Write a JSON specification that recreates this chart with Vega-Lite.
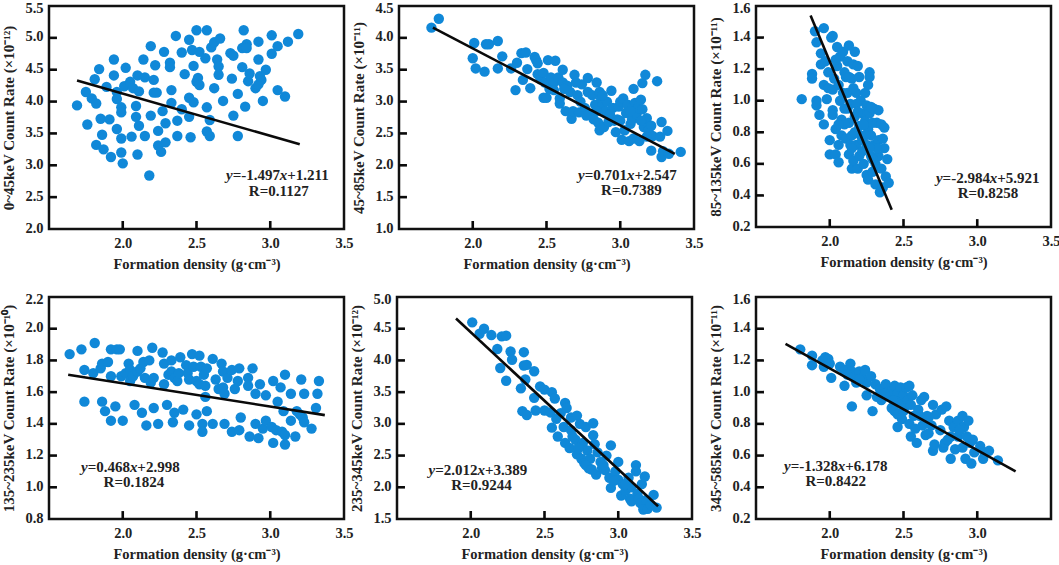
{"$schema":"https://vega.github.io/schema/vega-lite/v6.json","padding":{"left":0,"top":-2,"right":0,"bottom":0},"background":"white",
"config":{"view":{"stroke":"#111","strokeWidth":2.5},"axis":{"grid":false,"domain":false,"ticks":false,"labelFont":"Liberation Serif","labelFontWeight":"bold","labelFontSize":14.5,"labelColor":"#222","titleFont":"Liberation Serif","titleFontWeight":"bold","titleColor":"#222","format":".1f","labelOverlap":false,"labelFlush":false},"axisX":{"labelPadding":7,"titlePadding":8,"titleFontSize":14.5},"axisY":{"labelPadding":6,"titlePadding":8,"titleFontSize":15,"labelOffset":{"expr":"datum.index==1?2:-1"}},"text":{"font":"Liberation Serif","fontSize":15,"fontWeight":"bold","align":"left","baseline":"middle","color":"#222"},"circle":{"size":108,"opacity":1,"color":"#1088d8"},"line":{"color":"#0a0a0a","strokeWidth":2.6}},
"datasets":{
"t1":[{"g":1,"x":2,"y":2},{"g":1,"x":2,"y":2.126},{"g":2,"x":2.5,"y":2},{"g":2,"x":2.5,"y":2.126},{"g":3,"x":3,"y":2},{"g":3,"x":3,"y":2.126},{"g":4,"x":1.5,"y":2.5},{"g":4,"x":1.554,"y":2.5},{"g":5,"x":1.5,"y":3},{"g":5,"x":1.554,"y":3},{"g":6,"x":1.5,"y":3.5},{"g":6,"x":1.554,"y":3.5},{"g":7,"x":1.5,"y":4},{"g":7,"x":1.554,"y":4},{"g":8,"x":1.5,"y":4.5},{"g":8,"x":1.554,"y":4.5},{"g":9,"x":1.5,"y":5},{"g":9,"x":1.554,"y":5}],
"t2":[{"g":1,"x":2,"y":1},{"g":1,"x":2,"y":1.126},{"g":2,"x":2.5,"y":1},{"g":2,"x":2.5,"y":1.126},{"g":3,"x":3,"y":1},{"g":3,"x":3,"y":1.126},{"g":4,"x":1.5,"y":1.5},{"g":4,"x":1.554,"y":1.5},{"g":5,"x":1.5,"y":2},{"g":5,"x":1.554,"y":2},{"g":6,"x":1.5,"y":2.5},{"g":6,"x":1.554,"y":2.5},{"g":7,"x":1.5,"y":3},{"g":7,"x":1.554,"y":3},{"g":8,"x":1.5,"y":3.5},{"g":8,"x":1.554,"y":3.5},{"g":9,"x":1.5,"y":4},{"g":9,"x":1.554,"y":4}],
"t3":[{"g":1,"x":2,"y":0.2},{"g":1,"x":2,"y":0.25},{"g":2,"x":2.5,"y":0.2},{"g":2,"x":2.5,"y":0.25},{"g":3,"x":3,"y":0.2},{"g":3,"x":3,"y":0.25},{"g":4,"x":1.5,"y":0.4},{"g":4,"x":1.554,"y":0.4},{"g":5,"x":1.5,"y":0.6},{"g":5,"x":1.554,"y":0.6},{"g":6,"x":1.5,"y":0.8},{"g":6,"x":1.554,"y":0.8},{"g":7,"x":1.5,"y":1},{"g":7,"x":1.554,"y":1},{"g":8,"x":1.5,"y":1.2},{"g":8,"x":1.554,"y":1.2},{"g":9,"x":1.5,"y":1.4},{"g":9,"x":1.554,"y":1.4}],
"t4":[{"g":1,"x":2,"y":0.8},{"g":1,"x":2,"y":0.85},{"g":2,"x":2.5,"y":0.8},{"g":2,"x":2.5,"y":0.85},{"g":3,"x":3,"y":0.8},{"g":3,"x":3,"y":0.85},{"g":4,"x":1.5,"y":1},{"g":4,"x":1.554,"y":1},{"g":5,"x":1.5,"y":1.2},{"g":5,"x":1.554,"y":1.2},{"g":6,"x":1.5,"y":1.4},{"g":6,"x":1.554,"y":1.4},{"g":7,"x":1.5,"y":1.6},{"g":7,"x":1.554,"y":1.6},{"g":8,"x":1.5,"y":1.8},{"g":8,"x":1.554,"y":1.8},{"g":9,"x":1.5,"y":2},{"g":9,"x":1.554,"y":2}],
"t5":[{"g":1,"x":2,"y":1.5},{"g":1,"x":2,"y":1.626},{"g":2,"x":2.5,"y":1.5},{"g":2,"x":2.5,"y":1.626},{"g":3,"x":3,"y":1.5},{"g":3,"x":3,"y":1.626},{"g":4,"x":1.5,"y":2},{"g":4,"x":1.554,"y":2},{"g":5,"x":1.5,"y":2.5},{"g":5,"x":1.554,"y":2.5},{"g":6,"x":1.5,"y":3},{"g":6,"x":1.554,"y":3},{"g":7,"x":1.5,"y":3.5},{"g":7,"x":1.554,"y":3.5},{"g":8,"x":1.5,"y":4},{"g":8,"x":1.554,"y":4},{"g":9,"x":1.5,"y":4.5},{"g":9,"x":1.554,"y":4.5}],
"t6":[{"g":1,"x":2,"y":0.2},{"g":1,"x":2,"y":0.25},{"g":2,"x":2.5,"y":0.2},{"g":2,"x":2.5,"y":0.25},{"g":3,"x":3,"y":0.2},{"g":3,"x":3,"y":0.25},{"g":4,"x":1.5,"y":0.4},{"g":4,"x":1.554,"y":0.4},{"g":5,"x":1.5,"y":0.6},{"g":5,"x":1.554,"y":0.6},{"g":6,"x":1.5,"y":0.8},{"g":6,"x":1.554,"y":0.8},{"g":7,"x":1.5,"y":1},{"g":7,"x":1.554,"y":1},{"g":8,"x":1.5,"y":1.2},{"g":8,"x":1.554,"y":1.2},{"g":9,"x":1.5,"y":1.4},{"g":9,"x":1.554,"y":1.4}],
"d1":[{"x":1.69,"y":3.94},{"x":1.76,"y":3.64},{"x":1.75,"y":4.15},{"x":1.79,"y":4.05},{"x":1.82,"y":3.97},{"x":1.81,"y":4.35},{"x":1.84,"y":4.51},{"x":1.85,"y":3.73},{"x":1.86,"y":3.48},{"x":1.82,"y":3.32},{"x":1.87,"y":3.25},{"x":1.89,"y":4.23},{"x":1.91,"y":3.72},{"x":1.92,"y":3.13},{"x":1.94,"y":4.66},{"x":1.94,"y":4.41},{"x":1.96,"y":4.15},{"x":1.96,"y":4.04},{"x":1.96,"y":3.57},{"x":1.99,"y":3.91},{"x":1.99,"y":3.83},{"x":1.99,"y":3.42},{"x":1.99,"y":3.2},{"x":2.0,"y":3.03},{"x":2.01,"y":4.24},{"x":2.02,"y":4.53},{"x":2.05,"y":4.31},{"x":2.07,"y":4.21},{"x":2.1,"y":4.41},{"x":2.09,"y":3.93},{"x":2.09,"y":3.76},{"x":2.06,"y":3.45},{"x":2.11,"y":3.62},{"x":2.1,"y":3.17},{"x":2.11,"y":4.16},{"x":2.14,"y":4.66},{"x":2.15,"y":4.38},{"x":2.15,"y":3.46},{"x":2.19,"y":4.87},{"x":2.19,"y":3.78},{"x":2.18,"y":2.84},{"x":2.21,"y":4.34},{"x":2.21,"y":4.14},{"x":2.23,"y":4.14},{"x":2.22,"y":4.57},{"x":2.24,"y":3.54},{"x":2.24,"y":3.31},{"x":2.27,"y":3.85},{"x":2.26,"y":3.21},{"x":2.28,"y":4.78},{"x":2.29,"y":3.66},{"x":2.29,"y":3.36},{"x":2.32,"y":4.61},{"x":2.32,"y":4.54},{"x":2.33,"y":4.18},{"x":2.33,"y":3.98},{"x":2.36,"y":5.03},{"x":2.37,"y":3.7},{"x":2.37,"y":3.46},{"x":2.4,"y":4.77},{"x":2.4,"y":3.88},{"x":2.42,"y":4.43},{"x":2.45,"y":4.97},{"x":2.45,"y":4.06},{"x":2.45,"y":3.76},{"x":2.46,"y":3.44},{"x":2.47,"y":4.81},{"x":2.48,"y":4.56},{"x":2.48,"y":3.99},{"x":2.5,"y":5.12},{"x":2.5,"y":4.31},{"x":2.51,"y":4.37},{"x":2.52,"y":4.78},{"x":2.52,"y":4.26},{"x":2.56,"y":4.68},{"x":2.57,"y":5.12},{"x":2.57,"y":3.91},{"x":2.57,"y":3.53},{"x":2.59,"y":3.46},{"x":2.59,"y":3.71},{"x":2.6,"y":4.85},{"x":2.62,"y":4.93},{"x":2.62,"y":4.21},{"x":2.64,"y":4.66},{"x":2.65,"y":4.55},{"x":2.65,"y":4.42},{"x":2.66,"y":4.99},{"x":2.68,"y":4.01},{"x":2.73,"y":4.76},{"x":2.75,"y":4.72},{"x":2.74,"y":4.36},{"x":2.75,"y":3.78},{"x":2.78,"y":3.46},{"x":2.78,"y":4.12},{"x":2.81,"y":4.54},{"x":2.82,"y":5.12},{"x":2.81,"y":4.84},{"x":2.84,"y":4.9},{"x":2.84,"y":4.84},{"x":2.83,"y":3.92},{"x":2.85,"y":4.32},{"x":2.86,"y":4.44},{"x":2.9,"y":4.21},{"x":2.92,"y":4.94},{"x":2.92,"y":4.66},{"x":2.92,"y":4.27},{"x":2.94,"y":4.34},{"x":2.93,"y":4.4},{"x":2.97,"y":4.5},{"x":2.95,"y":4.01},{"x":3.01,"y":5.04},{"x":3.01,"y":4.75},{"x":3.05,"y":4.87},{"x":3.05,"y":4.18},{"x":3.12,"y":4.94},{"x":3.1,"y":4.08},{"x":3.19,"y":5.06}],
"d2":[{"x":1.72,"y":4.16},{"x":1.77,"y":4.3},{"x":2.01,"y":3.92},{"x":2.0,"y":3.68},{"x":2.02,"y":3.52},{"x":2.08,"y":3.47},{"x":2.09,"y":3.9},{"x":2.11,"y":3.9},{"x":2.17,"y":3.95},{"x":2.17,"y":3.52},{"x":2.2,"y":3.71},{"x":2.26,"y":3.52},{"x":2.29,"y":3.18},{"x":2.3,"y":3.61},{"x":2.33,"y":3.76},{"x":2.34,"y":3.34},{"x":2.36,"y":3.77},{"x":2.37,"y":3.51},{"x":2.39,"y":3.21},{"x":2.42,"y":3.7},{"x":2.43,"y":3.65},{"x":2.44,"y":3.6},{"x":2.44,"y":3.43},{"x":2.46,"y":3.35},{"x":2.48,"y":3.45},{"x":2.49,"y":3.3},{"x":2.48,"y":3.06},{"x":2.5,"y":3.06},{"x":2.51,"y":3.65},{"x":2.52,"y":3.2},{"x":2.53,"y":3.38},{"x":2.55,"y":3.3},{"x":2.56,"y":3.64},{"x":2.58,"y":3.38},{"x":2.59,"y":3.05},{"x":2.59,"y":2.97},{"x":2.61,"y":3.5},{"x":2.61,"y":3.3},{"x":2.63,"y":2.85},{"x":2.64,"y":3.25},{"x":2.66,"y":3.15},{"x":2.67,"y":2.73},{"x":2.68,"y":2.85},{"x":2.69,"y":3.42},{"x":2.7,"y":3.3},{"x":2.71,"y":3.1},{"x":2.72,"y":2.83},{"x":2.74,"y":3.27},{"x":2.76,"y":2.9},{"x":2.78,"y":3.37},{"x":2.78,"y":3.15},{"x":2.79,"y":2.8},{"x":2.81,"y":3.1},{"x":2.82,"y":2.72},{"x":2.83,"y":2.95},{"x":2.84,"y":3.3},{"x":2.85,"y":2.67},{"x":2.86,"y":2.55},{"x":2.86,"y":3.15},{"x":2.87,"y":3.05},{"x":2.88,"y":2.95},{"x":2.89,"y":2.6},{"x":2.9,"y":2.85},{"x":2.91,"y":3.0},{"x":2.92,"y":2.68},{"x":2.94,"y":3.17},{"x":2.95,"y":2.9},{"x":2.96,"y":2.7},{"x":2.97,"y":2.52},{"x":2.98,"y":2.72},{"x":2.99,"y":2.92},{"x":3.0,"y":3.0},{"x":3.01,"y":2.4},{"x":3.02,"y":3.05},{"x":3.03,"y":2.55},{"x":3.04,"y":2.82},{"x":3.05,"y":2.95},{"x":3.06,"y":2.38},{"x":3.07,"y":2.65},{"x":3.08,"y":2.72},{"x":3.09,"y":2.42},{"x":3.09,"y":3.2},{"x":3.1,"y":2.98},{"x":3.11,"y":2.8},{"x":3.12,"y":2.9},{"x":3.13,"y":2.38},{"x":3.14,"y":3.03},{"x":3.15,"y":2.88},{"x":3.15,"y":3.29},{"x":3.16,"y":2.6},{"x":3.17,"y":3.42},{"x":3.18,"y":2.74},{"x":3.19,"y":2.55},{"x":3.21,"y":2.62},{"x":3.21,"y":2.23},{"x":3.22,"y":2.46},{"x":3.25,"y":3.32},{"x":3.27,"y":2.45},{"x":3.28,"y":2.68},{"x":3.28,"y":2.13},{"x":3.29,"y":2.22},{"x":3.32,"y":2.54},{"x":3.33,"y":2.18},{"x":3.41,"y":2.21},{"x":2.55,"y":3.18},{"x":2.62,"y":3.2},{"x":2.73,"y":3.0},{"x":2.77,"y":2.78},{"x":2.84,"y":2.85},{"x":2.88,"y":3.1},{"x":2.93,"y":2.8},{"x":3.0,"y":2.7},{"x":3.07,"y":2.85},{"x":3.14,"y":2.7},{"x":3.18,"y":2.45}],
"d3":[{"x":1.81,"y":1.01},{"x":1.88,"y":1.17},{"x":1.88,"y":1.14},{"x":1.9,"y":1.44},{"x":1.91,"y":1.37},{"x":1.91,"y":1.0},{"x":1.91,"y":0.97},{"x":1.93,"y":0.91},{"x":1.94,"y":1.3},{"x":1.94,"y":1.23},{"x":1.96,"y":1.46},{"x":1.96,"y":0.85},{"x":1.96,"y":1.1},{"x":1.97,"y":1.25},{"x":1.98,"y":1.01},{"x":1.99,"y":1.08},{"x":1.99,"y":1.18},{"x":2.0,"y":0.75},{"x":2.0,"y":0.66},{"x":2.01,"y":1.4},{"x":2.02,"y":1.41},{"x":2.02,"y":1.07},{"x":2.02,"y":0.94},{"x":2.02,"y":0.91},{"x":2.03,"y":1.14},{"x":2.04,"y":0.82},{"x":2.04,"y":0.66},{"x":2.05,"y":1.34},{"x":2.05,"y":1.22},{"x":2.06,"y":0.72},{"x":2.06,"y":0.61},{"x":2.07,"y":1.28},{"x":2.07,"y":1.0},{"x":2.08,"y":0.88},{"x":2.08,"y":0.78},{"x":2.09,"y":1.31},{"x":2.1,"y":0.95},{"x":2.1,"y":1.18},{"x":2.11,"y":0.76},{"x":2.12,"y":1.25},{"x":2.12,"y":1.05},{"x":2.13,"y":0.86},{"x":2.13,"y":0.66},{"x":2.13,"y":1.35},{"x":2.14,"y":0.98},{"x":2.15,"y":1.14},{"x":2.15,"y":0.78},{"x":2.15,"y":0.57},{"x":2.16,"y":1.23},{"x":2.16,"y":0.62},{"x":2.17,"y":1.31},{"x":2.17,"y":0.9},{"x":2.18,"y":1.05},{"x":2.18,"y":0.72},{"x":2.19,"y":1.22},{"x":2.19,"y":0.57},{"x":2.2,"y":1.15},{"x":2.2,"y":0.84},{"x":2.2,"y":0.65},{"x":2.21,"y":1.0},{"x":2.22,"y":0.92},{"x":2.22,"y":0.75},{"x":2.23,"y":0.6},{"x":2.24,"y":1.05},{"x":2.24,"y":0.87},{"x":2.25,"y":0.97},{"x":2.25,"y":0.72},{"x":2.25,"y":0.53},{"x":2.26,"y":1.1},{"x":2.26,"y":0.82},{"x":2.26,"y":0.5},{"x":2.27,"y":1.18},{"x":2.27,"y":1.15},{"x":2.27,"y":0.92},{"x":2.28,"y":0.65},{"x":2.28,"y":0.78},{"x":2.29,"y":0.86},{"x":2.29,"y":0.55},{"x":2.3,"y":0.95},{"x":2.3,"y":0.72},{"x":2.31,"y":0.6},{"x":2.31,"y":0.47},{"x":2.32,"y":0.86},{"x":2.33,"y":0.94},{"x":2.33,"y":0.75},{"x":2.33,"y":0.65},{"x":2.34,"y":0.42},{"x":2.35,"y":0.85},{"x":2.35,"y":0.57},{"x":2.36,"y":0.76},{"x":2.36,"y":0.45},{"x":2.37,"y":0.83},{"x":2.37,"y":0.7},{"x":2.38,"y":0.52},{"x":2.39,"y":0.63},{"x":2.4,"y":0.48},{"x":2.1,"y":0.85},{"x":2.14,"y":0.72},{"x":2.18,"y":0.98},{"x":2.21,"y":0.78},{"x":2.22,"y":0.68},{"x":2.24,"y":0.78},{"x":2.28,"y":0.96},{"x":2.32,"y":0.7},{"x":2.06,"y":1.1},{"x":2.11,"y":1.15},{"x":2.16,"y":1.08},{"x":2.09,"y":1.05},{"x":2.17,"y":0.8},{"x":2.12,"y":0.95},{"x":2.27,"y":0.7},{"x":2.19,"y":0.93},{"x":2.06,"y":0.85},{"x":2.13,"y":1.15},{"x":2.04,"y":1.26},{"x":2.23,"y":0.85},{"x":2.29,"y":0.63},{"x":2.15,"y":0.7}],
"d4":[{"x":1.64,"y":1.84},{"x":1.72,"y":1.87},{"x":1.74,"y":1.74},{"x":1.74,"y":1.54},{"x":1.81,"y":1.91},{"x":1.8,"y":1.72},{"x":1.85,"y":1.75},{"x":1.86,"y":1.78},{"x":1.86,"y":1.54},{"x":1.88,"y":1.48},{"x":1.9,"y":1.79},{"x":1.92,"y":1.7},{"x":1.92,"y":1.42},{"x":1.92,"y":1.87},{"x":1.96,"y":1.87},{"x":1.95,"y":1.51},{"x":1.98,"y":1.87},{"x":1.99,"y":1.7},{"x":2.0,"y":1.42},{"x":2.02,"y":1.72},{"x":2.04,"y":1.78},{"x":2.05,"y":1.74},{"x":2.05,"y":1.67},{"x":2.07,"y":1.7},{"x":2.08,"y":1.52},{"x":2.1,"y":1.86},{"x":2.1,"y":1.73},{"x":2.12,"y":1.75},{"x":2.13,"y":1.47},{"x":2.14,"y":1.79},{"x":2.15,"y":1.69},{"x":2.16,"y":1.39},{"x":2.18,"y":1.8},{"x":2.19,"y":1.66},{"x":2.2,"y":1.88},{"x":2.21,"y":1.69},{"x":2.21,"y":1.5},{"x":2.24,"y":1.4},{"x":2.27,"y":1.85},{"x":2.28,"y":1.78},{"x":2.28,"y":1.65},{"x":2.3,"y":1.52},{"x":2.31,"y":1.71},{"x":2.33,"y":1.8},{"x":2.33,"y":1.73},{"x":2.34,"y":1.41},{"x":2.35,"y":1.47},{"x":2.35,"y":1.69},{"x":2.37,"y":1.67},{"x":2.38,"y":1.72},{"x":2.39,"y":1.82},{"x":2.41,"y":1.49},{"x":2.43,"y":1.77},{"x":2.44,"y":1.72},{"x":2.45,"y":1.39},{"x":2.45,"y":1.68},{"x":2.47,"y":1.84},{"x":2.48,"y":1.76},{"x":2.5,"y":1.46},{"x":2.5,"y":1.67},{"x":2.52,"y":1.83},{"x":2.52,"y":1.65},{"x":2.53,"y":1.76},{"x":2.54,"y":1.4},{"x":2.54,"y":1.35},{"x":2.55,"y":1.71},{"x":2.56,"y":1.64},{"x":2.56,"y":1.57},{"x":2.57,"y":1.75},{"x":2.57,"y":1.48},{"x":2.61,"y":1.81},{"x":2.61,"y":1.4},{"x":2.63,"y":1.68},{"x":2.65,"y":1.62},{"x":2.67,"y":1.78},{"x":2.68,"y":1.73},{"x":2.68,"y":1.63},{"x":2.69,"y":1.59},{"x":2.69,"y":1.4},{"x":2.71,"y":1.69},{"x":2.74,"y":1.74},{"x":2.74,"y":1.35},{"x":2.76,"y":1.62},{"x":2.78,"y":1.67},{"x":2.79,"y":1.75},{"x":2.79,"y":1.36},{"x":2.8,"y":1.44},{"x":2.85,"y":1.69},{"x":2.85,"y":1.64},{"x":2.86,"y":1.32},{"x":2.88,"y":1.75},{"x":2.9,"y":1.59},{"x":2.9,"y":1.4},{"x":2.92,"y":1.31},{"x":2.93,"y":1.65},{"x":2.95,"y":1.37},{"x":2.97,"y":1.58},{"x":2.97,"y":1.42},{"x":3.01,"y":1.38},{"x":3.02,"y":1.67},{"x":3.02,"y":1.28},{"x":3.04,"y":1.36},{"x":3.05,"y":1.54},{"x":3.07,"y":1.63},{"x":3.08,"y":1.35},{"x":3.09,"y":1.48},{"x":3.1,"y":1.71},{"x":3.1,"y":1.33},{"x":3.1,"y":1.27},{"x":3.14,"y":1.59},{"x":3.14,"y":1.42},{"x":3.17,"y":1.32},{"x":3.18,"y":1.48},{"x":3.2,"y":1.46},{"x":3.21,"y":1.68},{"x":3.22,"y":1.44},{"x":3.23,"y":1.59},{"x":3.23,"y":1.41},{"x":3.28,"y":1.37},{"x":3.31,"y":1.5},{"x":3.32,"y":1.59},{"x":3.33,"y":1.67}],
"d5":[{"x":2.01,"y":4.6},{"x":2.06,"y":4.42},{"x":2.09,"y":4.5},{"x":2.14,"y":4.4},{"x":2.18,"y":4.18},{"x":2.2,"y":3.88},{"x":2.21,"y":4.38},{"x":2.24,"y":4.39},{"x":2.24,"y":3.68},{"x":2.27,"y":4.14},{"x":2.28,"y":4.01},{"x":2.34,"y":3.56},{"x":2.35,"y":3.2},{"x":2.36,"y":3.92},{"x":2.36,"y":4.13},{"x":2.38,"y":3.93},{"x":2.37,"y":3.7},{"x":2.38,"y":3.14},{"x":2.43,"y":3.83},{"x":2.43,"y":3.41},{"x":2.44,"y":3.21},{"x":2.47,"y":3.59},{"x":2.5,"y":3.54},{"x":2.5,"y":3.21},{"x":2.54,"y":3.18},{"x":2.55,"y":3.5},{"x":2.55,"y":2.94},{"x":2.57,"y":3.4},{"x":2.58,"y":3.08},{"x":2.59,"y":2.8},{"x":2.61,"y":3.17},{"x":2.63,"y":2.95},{"x":2.64,"y":3.33},{"x":2.65,"y":3.25},{"x":2.64,"y":2.7},{"x":2.67,"y":2.62},{"x":2.68,"y":3.1},{"x":2.68,"y":2.9},{"x":2.71,"y":2.75},{"x":2.72,"y":3.13},{"x":2.72,"y":2.52},{"x":2.74,"y":3.0},{"x":2.75,"y":2.45},{"x":2.76,"y":2.7},{"x":2.77,"y":2.38},{"x":2.78,"y":2.95},{"x":2.79,"y":2.58},{"x":2.8,"y":2.3},{"x":2.81,"y":2.45},{"x":2.83,"y":3.01},{"x":2.83,"y":2.82},{"x":2.84,"y":2.68},{"x":2.85,"y":2.2},{"x":2.86,"y":2.55},{"x":2.88,"y":2.4},{"x":2.89,"y":2.3},{"x":2.91,"y":2.27},{"x":2.92,"y":2.5},{"x":2.94,"y":2.15},{"x":2.95,"y":1.99},{"x":2.95,"y":2.66},{"x":2.98,"y":2.25},{"x":3.0,"y":2.12},{"x":3.0,"y":2.4},{"x":3.02,"y":1.87},{"x":3.03,"y":2.05},{"x":3.05,"y":1.95},{"x":3.07,"y":2.15},{"x":3.08,"y":1.82},{"x":3.09,"y":2.0},{"x":3.09,"y":1.78},{"x":3.12,"y":2.35},{"x":3.12,"y":2.25},{"x":3.13,"y":1.9},{"x":3.14,"y":1.82},{"x":3.15,"y":1.75},{"x":3.16,"y":2.05},{"x":3.17,"y":1.65},{"x":3.18,"y":2.17},{"x":3.19,"y":1.8},{"x":3.2,"y":1.66},{"x":3.22,"y":1.72},{"x":3.24,"y":1.88},{"x":3.26,"y":1.68},{"x":2.69,"y":2.8},{"x":2.73,"y":2.62},{"x":2.78,"y":2.35},{"x":2.82,"y":2.28},{"x":2.9,"y":2.35},{"x":2.97,"y":2.1},{"x":3.05,"y":2.05}],
"d6":[{"x":1.8,"y":1.27},{"x":1.88,"y":1.23},{"x":1.88,"y":1.17},{"x":1.95,"y":1.2},{"x":1.96,"y":1.16},{"x":1.97,"y":1.22},{"x":1.99,"y":1.21},{"x":2.0,"y":1.18},{"x":2.01,"y":1.09},{"x":2.07,"y":1.16},{"x":2.1,"y":1.04},{"x":2.1,"y":1.13},{"x":2.13,"y":1.15},{"x":2.14,"y":1.18},{"x":2.15,"y":0.91},{"x":2.15,"y":1.13},{"x":2.17,"y":1.1},{"x":2.18,"y":1.06},{"x":2.2,"y":1.13},{"x":2.22,"y":1.09},{"x":2.24,"y":1.14},{"x":2.25,"y":1.06},{"x":2.25,"y":0.98},{"x":2.28,"y":1.1},{"x":2.29,"y":0.88},{"x":2.31,"y":1.05},{"x":2.32,"y":0.97},{"x":2.34,"y":1.02},{"x":2.35,"y":0.95},{"x":2.38,"y":1.05},{"x":2.39,"y":1.0},{"x":2.4,"y":0.97},{"x":2.42,"y":1.01},{"x":2.42,"y":0.9},{"x":2.44,"y":0.88},{"x":2.44,"y":1.04},{"x":2.46,"y":0.99},{"x":2.46,"y":0.86},{"x":2.46,"y":0.78},{"x":2.47,"y":0.94},{"x":2.48,"y":1.03},{"x":2.49,"y":0.83},{"x":2.5,"y":0.98},{"x":2.51,"y":0.91},{"x":2.52,"y":1.03},{"x":2.53,"y":0.95},{"x":2.54,"y":0.8},{"x":2.54,"y":1.04},{"x":2.55,"y":0.72},{"x":2.56,"y":0.98},{"x":2.57,"y":0.85},{"x":2.58,"y":0.77},{"x":2.59,"y":0.68},{"x":2.6,"y":0.89},{"x":2.62,"y":0.95},{"x":2.63,"y":0.79},{"x":2.64,"y":0.97},{"x":2.65,"y":0.73},{"x":2.66,"y":0.85},{"x":2.67,"y":0.74},{"x":2.69,"y":0.79},{"x":2.7,"y":0.92},{"x":2.7,"y":0.63},{"x":2.71,"y":0.67},{"x":2.72,"y":0.86},{"x":2.75,"y":0.76},{"x":2.76,"y":0.89},{"x":2.77,"y":0.65},{"x":2.78,"y":0.68},{"x":2.79,"y":0.91},{"x":2.8,"y":0.7},{"x":2.81,"y":0.82},{"x":2.82,"y":0.58},{"x":2.84,"y":0.78},{"x":2.85,"y":0.64},{"x":2.87,"y":0.72},{"x":2.87,"y":0.82},{"x":2.9,"y":0.85},{"x":2.9,"y":0.65},{"x":2.91,"y":0.78},{"x":2.92,"y":0.58},{"x":2.94,"y":0.82},{"x":2.95,"y":0.68},{"x":2.96,"y":0.55},{"x":2.97,"y":0.7},{"x":2.98,"y":0.62},{"x":3.02,"y":0.66},{"x":3.04,"y":0.58},{"x":3.05,"y":0.62},{"x":3.08,"y":0.63},{"x":3.14,"y":0.57},{"x":2.37,"y":0.99},{"x":2.43,"y":0.95},{"x":2.5,"y":0.88},{"x":2.55,"y":0.92},{"x":2.61,"y":0.85},{"x":2.2,"y":1.08},{"x":2.12,"y":1.11},{"x":2.67,"y":0.84},{"x":2.82,"y":0.72},{"x":2.88,"y":0.76},{"x":2.93,"y":0.72}],
"l1":[{"x":1.69,"y":4.33},{"x":3.2,"y":3.33}],
"l2":[{"x":1.73,"y":4.16},{"x":3.37,"y":2.18}],
"l3":[{"x":1.87,"y":1.54},{"x":2.42,"y":0.31}],
"l4":[{"x":1.63,"y":1.71},{"x":3.37,"y":1.455}],
"l5":[{"x":1.9,"y":4.66},{"x":3.27,"y":1.7}],
"l6":[{"x":1.7,"y":1.305},{"x":3.26,"y":0.5}],
"b1":[{"x":2.745,"y":2.84,"t":"=-1.497"},{"x":3.115,"y":2.84,"t":"+1.211"},{"x":2.855,"y":2.6,"t":"R=0.1127"}],
"i1":[{"x":2.7,"y":2.84,"t":"y"},{"x":3.065,"y":2.84,"t":"x"}],
"b2":[{"x":2.759,"y":1.84,"t":"=0.701"},{"x":3.096,"y":1.84,"t":"+2.547"},{"x":2.87,"y":1.61,"t":"R=0.7389"}],
"i2":[{"x":2.714,"y":1.84,"t":"y"},{"x":3.046,"y":1.84,"t":"x"}],
"b3":[{"x":2.765,"y":0.51,"t":"=-2.984"},{"x":3.135,"y":0.51,"t":"+5.921"},{"x":2.867,"y":0.416,"t":"R=0.8258"}],
"i3":[{"x":2.72,"y":0.51,"t":"y"},{"x":3.085,"y":0.51,"t":"x"}],
"b4":[{"x":1.762,"y":1.13,"t":"=0.468"},{"x":2.099,"y":1.13,"t":"+2.998"},{"x":1.87,"y":1.035,"t":"R=0.1824"}],
"i4":[{"x":1.717,"y":1.13,"t":"y"},{"x":2.049,"y":1.13,"t":"x"}],
"b5":[{"x":1.759,"y":2.28,"t":"=2.012"},{"x":2.096,"y":2.28,"t":"+3.389"},{"x":1.867,"y":2.03,"t":"R=0.9244"}],
"i5":[{"x":1.714,"y":2.28,"t":"y"},{"x":2.046,"y":2.28,"t":"x"}],
"b6":[{"x":1.735,"y":0.537,"t":"=-1.328"},{"x":2.105,"y":0.537,"t":"+6.178"},{"x":1.835,"y":0.44,"t":"R=0.8422"}],
"i6":[{"x":1.69,"y":0.537,"t":"y"},{"x":2.055,"y":0.537,"t":"x"}]
},
"spacing":16,
"vconcat":[
{"spacing":2,"hconcat":[
{"spacing":-5,"hconcat":[
{"width":295,"height":223,"encoding":{"x":{"field":"x","type":"quantitative","scale":{"domain":[1.5,3.5]},"axis":{"values":[2,2.5,3,3.5],"title":"Formation density (g·cm⁻³)"}},"y":{"field":"y","type":"quantitative","scale":{"domain":[2,5.5]},"axis":{"values":[2,2.5,3,3.5,4,4.5,5,5.5],"title":"0~45keV Count Rate (×10⁻¹²)"}}},"layer":[{"data":{"name":"t1"},"mark":"line","encoding":{"detail":{"field":"g"}}},{"data":{"name":"d1"},"mark":"circle"},{"data":{"name":"l1"},"mark":"line"},{"data":{"name":"b1"},"mark":"text","encoding":{"text":{"field":"t"}}},{"data":{"name":"i1"},"mark":{"type":"text","fontStyle":"italic"},"encoding":{"text":{"field":"t"}}}]},
{"width":295,"height":223,"encoding":{"x":{"field":"x","type":"quantitative","scale":{"domain":[1.5,3.5]},"axis":{"values":[2,2.5,3,3.5],"title":"Formation density (g·cm⁻³)"}},"y":{"field":"y","type":"quantitative","scale":{"domain":[1,4.5]},"axis":{"values":[1,1.5,2,2.5,3,3.5,4,4.5],"title":"45~85keV Count Rate (×10⁻¹¹)"}}},"layer":[{"data":{"name":"t2"},"mark":"line","encoding":{"detail":{"field":"g"}}},{"data":{"name":"d2"},"mark":"circle"},{"data":{"name":"l2"},"mark":"line"},{"data":{"name":"b2"},"mark":"text","encoding":{"text":{"field":"t"}}},{"data":{"name":"i2"},"mark":{"type":"text","fontStyle":"italic"},"encoding":{"text":{"field":"t"}}}]}
]},
{"width":295,"height":221,"encoding":{"x":{"field":"x","type":"quantitative","scale":{"domain":[1.5,3.5]},"axis":{"values":[2,2.5,3,3.5],"title":"Formation density (g·cm⁻³)"}},"y":{"field":"y","type":"quantitative","scale":{"domain":[0.2,1.6]},"axis":{"values":[0.2,0.4,0.6,0.8,1,1.2,1.4,1.6],"title":"85~135keV Count Rate (×10⁻¹¹)"}}},"layer":[{"data":{"name":"t3"},"mark":"line","encoding":{"detail":{"field":"g"}}},{"data":{"name":"d3"},"mark":"circle"},{"data":{"name":"l3"},"mark":"line"},{"data":{"name":"b3"},"mark":"text","encoding":{"text":{"field":"t"}}},{"data":{"name":"i3"},"mark":{"type":"text","fontStyle":"italic"},"encoding":{"text":{"field":"t"}}}]}
]},
{"spacing":4,"hconcat":[
{"spacing":-7,"hconcat":[
{"width":295,"height":222,"encoding":{"x":{"field":"x","type":"quantitative","scale":{"domain":[1.5,3.5]},"axis":{"values":[2,2.5,3,3.5],"title":"Formation density (g·cm⁻³)"}},"y":{"field":"y","type":"quantitative","scale":{"domain":[0.8,2.2]},"axis":{"values":[0.8,1,1.2,1.4,1.6,1.8,2,2.2],"title":"135~235keV Count Rate (×10⁻¹⁰)"}}},"layer":[{"data":{"name":"t4"},"mark":"line","encoding":{"detail":{"field":"g"}}},{"data":{"name":"d4"},"mark":"circle"},{"data":{"name":"l4"},"mark":"line"},{"data":{"name":"b4"},"mark":"text","encoding":{"text":{"field":"t"}}},{"data":{"name":"i4"},"mark":{"type":"text","fontStyle":"italic"},"encoding":{"text":{"field":"t"}}}]},
{"width":295,"height":222,"encoding":{"x":{"field":"x","type":"quantitative","scale":{"domain":[1.5,3.5]},"axis":{"values":[2,2.5,3,3.5],"title":"Formation density (g·cm⁻³)"}},"y":{"field":"y","type":"quantitative","scale":{"domain":[1.5,5]},"axis":{"values":[1.5,2,2.5,3,3.5,4,4.5,5],"title":"235~345keV Count Rate (×10⁻¹²)"}}},"layer":[{"data":{"name":"t5"},"mark":"line","encoding":{"detail":{"field":"g"}}},{"data":{"name":"d5"},"mark":"circle"},{"data":{"name":"l5"},"mark":"line"},{"data":{"name":"b5"},"mark":"text","encoding":{"text":{"field":"t"}}},{"data":{"name":"i5"},"mark":{"type":"text","fontStyle":"italic"},"encoding":{"text":{"field":"t"}}}]}
]},
{"width":295,"height":222,"encoding":{"x":{"field":"x","type":"quantitative","scale":{"domain":[1.5,3.5]},"axis":{"values":[2,2.5,3],"title":"Formation density (g·cm⁻³)"}},"y":{"field":"y","type":"quantitative","scale":{"domain":[0.2,1.6]},"axis":{"values":[0.2,0.4,0.6,0.8,1,1.2,1.4,1.6],"title":"345~585keV Count Rate (×10⁻¹¹)"}}},"layer":[{"data":{"name":"t6"},"mark":"line","encoding":{"detail":{"field":"g"}}},{"data":{"name":"d6"},"mark":"circle"},{"data":{"name":"l6"},"mark":"line"},{"data":{"name":"b6"},"mark":"text","encoding":{"text":{"field":"t"}}},{"data":{"name":"i6"},"mark":{"type":"text","fontStyle":"italic"},"encoding":{"text":{"field":"t"}}}]}
]}
]}
